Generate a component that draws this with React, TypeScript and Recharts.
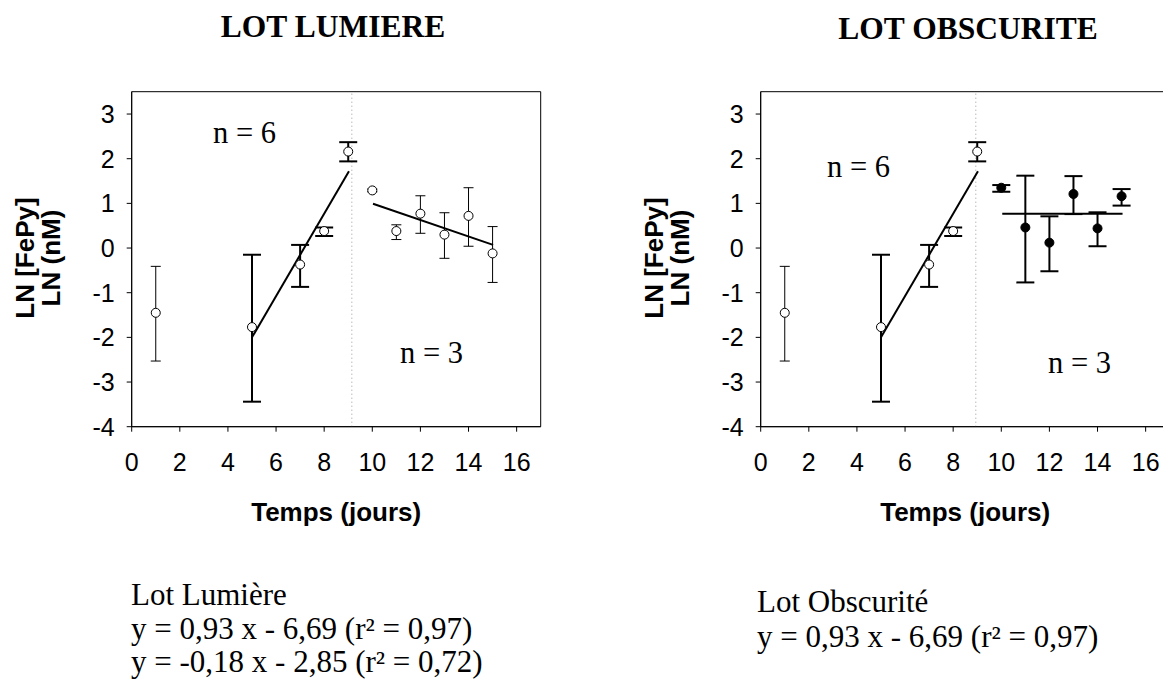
import {
  ComposedChart,
  Scatter,
  ErrorBar,
  XAxis,
  YAxis,
  ReferenceArea,
  ReferenceLine,
  Label,
} from 'recharts';

// values (days / ln concentrations)
const xTicks = [0, 2, 4, 6, 8, 10, 12, 14, 16];
const yTicks = [-4, -3, -2, -1, 0, 1, 2, 3];

const firstDay = [1];
const firstMean = [-1.45];
const firstLow = [-2.53];
const firstHigh = [-0.41];

const growthDays = [5, 7, 8, 9];
const growthMean = [-1.77, -0.37, 0.38, 2.16];
const growthLow = [-3.44, -0.87, 0.27, 1.94];
const growthHigh = [-0.15, 0.07, 0.46, 2.37];

const lateDays = [10, 11, 12, 13, 14, 15];
const lumiereMean = [1.29, 0.38, 0.77, 0.3, 0.72, -0.12];
const lumiereLow = [1.26, 0.19, 0.33, -0.23, 0.04, -0.77];
const lumiereHigh = [1.32, 0.52, 1.17, 0.79, 1.35, 0.48];
const obscMean = [1.35, 0.46, 0.12, 1.21, 0.44, 1.16];
const obscLow = [1.26, -0.77, -0.52, 0.76, 0.04, 0.95];
const obscHigh = [1.41, 1.62, 0.71, 1.61, 0.8, 1.32];

const growthFitX = [5, 9.03];
const growthFitY = [-2.0, 1.72];
const lumiereFitX = [10.03, 15.02];
const lumiereFitY = [0.99, 0.07];
const obscFitX = [10.04, 15.04];
const obscFitY = [0.77, 0.77];

const toPoints = (days: number[], mean: number[], low: number[], high: number[]) =>
  days.map((x, i) => ({ x, y: mean[i], err: [mean[i] - low[i], high[i] - mean[i]] }));

const toSegment = (xs: number[], ys: number[]) => xs.map((x, i) => ({ x, y: ys[i] }));

const OpenDot = (p: any) => <circle cx={p.cx} cy={p.cy} r={4.5} fill="#fff" stroke="#000" strokeWidth={1} />;
const FullDot = (p: any) => <circle cx={p.cx} cy={p.cy} r={4.5} fill="#000" stroke="#000" strokeWidth={1} />;

const boldSans = 'Arial, "Liberation Sans", sans-serif';
const serif = '"Times New Roman", "Liberation Serif", serif';
const tickStyle = { fontSize: 25, fill: '#000', fontFamily: boldSans };

const renderYTitle = () => {
  const cx = 34;
  const cy = 258;
  return (
    <text
      transform={`rotate(-90 ${cx} ${cy})`}
      textAnchor="middle"
      fontFamily={boldSans}
      fontWeight="bold"
      fontSize={26}
      fill="#000"
    >
      <tspan x={cx} y={cy}>LN [FePy]</tspan>
      <tspan x={cx} y={cy + 26}>LN (nM)</tspan>
    </text>
  );
};

const renderXTitle = (props: any) => {
  const vb = props.viewBox;
  return (
    <text x={vb.x + vb.width / 2} y={521} textAnchor="middle" fontFamily={boldSans} fontWeight="bold" fontSize={26} fill="#000">
      Temps (jours)
    </text>
  );
};

interface PanelProps {
  left: number;
  separator: number;
  lateMean: number[];
  lateLow: number[];
  lateHigh: number[];
  filled: boolean;
  lateFitX: number[];
  lateFitY: number[];
}

function Panel({ left, separator, lateMean, lateLow, lateHigh, filled, lateFitX, lateFitY }: PanelProps) {
  return (
    <div style={{ position: 'absolute', left, top: 0 }}>
      <ComposedChart width={560} height={540} margin={{ top: 91.7, right: 19.3, bottom: 0, left: 0 }}>
        <XAxis
          type="number"
          dataKey="x"
          domain={[0, 17]}
          ticks={xTicks}
          allowDataOverflow
          height={113.3}
          tickSize={5}
          tickMargin={22}
          fontSize={25}
          tick={tickStyle}
          axisLine={{ stroke: '#000' }}
          tickLine={{ stroke: '#000' }}
        >
          <Label content={renderXTitle} />
        </XAxis>
        <YAxis
          type="number"
          dataKey="y"
          domain={[-4, 3.5]}
          ticks={yTicks}
          allowDataOverflow
          width={131.7}
          tickSize={5}
          tickMargin={12}
          fontSize={25}
          tick={tickStyle}
          axisLine={{ stroke: '#000' }}
          tickLine={{ stroke: '#000' }}
        >
          <Label content={renderYTitle} />
        </YAxis>
        <ReferenceArea x1={0} x2={17} y1={-4} y2={3.5} fill="none" stroke="#000" strokeWidth={1} />
        <ReferenceLine x={separator} stroke="#999" strokeDasharray="1 3" />
        <ReferenceLine segment={toSegment(growthFitX, growthFitY)} stroke="#000" strokeWidth={2} />
        <ReferenceLine segment={toSegment(lateFitX, lateFitY)} stroke="#000" strokeWidth={2} />
        <Scatter data={toPoints(firstDay, firstMean, firstLow, firstHigh)} dataKey="y" shape={OpenDot} isAnimationActive={false}>
          <ErrorBar dataKey="err" direction="y" width={5} stroke="#000" strokeWidth={1} isAnimationActive={false} />
        </Scatter>
        <Scatter data={toPoints(growthDays, growthMean, growthLow, growthHigh)} dataKey="y" shape={OpenDot} isAnimationActive={false}>
          <ErrorBar dataKey="err" direction="y" width={9} stroke="#000" strokeWidth={2} isAnimationActive={false} />
        </Scatter>
        <Scatter
          data={toPoints(lateDays, lateMean, lateLow, lateHigh)}
          dataKey="y"
          shape={filled ? FullDot : OpenDot}
          isAnimationActive={false}
        >
          <ErrorBar
            dataKey="err"
            direction="y"
            width={filled ? 9 : 5}
            stroke="#000"
            strokeWidth={filled ? 2 : 1}
            isAnimationActive={false}
          />
        </Scatter>
      </ComposedChart>
    </div>
  );
}

export default function App() {
  return (
    <div style={{ position: 'absolute', left: 0, top: 0, width: 1163, height: 679, overflow: 'hidden', background: '#fff' }}>
      <Panel
        left={0}
        separator={9.15}
        lateMean={lumiereMean}
        lateLow={lumiereLow}
        lateHigh={lumiereHigh}
        filled={false}
        lateFitX={lumiereFitX}
        lateFitY={lumiereFitY}
      />
      <Panel
        left={629}
        separator={8.94}
        lateMean={obscMean}
        lateLow={obscLow}
        lateHigh={obscHigh}
        filled={true}
        lateFitX={obscFitX}
        lateFitY={obscFitY}
      />
      <svg width={1163} height={679} style={{ position: 'absolute', left: 0, top: 0, pointerEvents: 'none' }}>
        <g fontFamily={serif} fill="#000">
          <text x={333} y={37} textAnchor="middle" fontWeight="bold" fontSize={31.5}>LOT LUMIERE</text>
          <text x={968} y={39} textAnchor="middle" fontWeight="bold" fontSize={31.5}>LOT OBSCURITE</text>
          <text x={213} y={143} fontSize={30.5}>n = 6</text>
          <text x={400} y={363} fontSize={30.5}>n = 3</text>
          <text x={827} y={177} fontSize={30.5}>n = 6</text>
          <text x={1048} y={373} fontSize={30.5}>n = 3</text>
          <text fontSize={31}>
            <tspan x={131} y={605}>Lot Lumière</tspan>
            <tspan x={131} y={639}>y = 0,93 x - 6,69 (r² = 0,97)</tspan>
            <tspan x={131} y={672}>y = -0,18 x - 2,85 (r² = 0,72)</tspan>
          </text>
          <text fontSize={31}>
            <tspan x={757} y={612}>Lot Obscurité</tspan>
            <tspan x={757} y={647}>y = 0,93 x - 6,69 (r² = 0,97)</tspan>
          </text>
        </g>
      </svg>
    </div>
  );
}
